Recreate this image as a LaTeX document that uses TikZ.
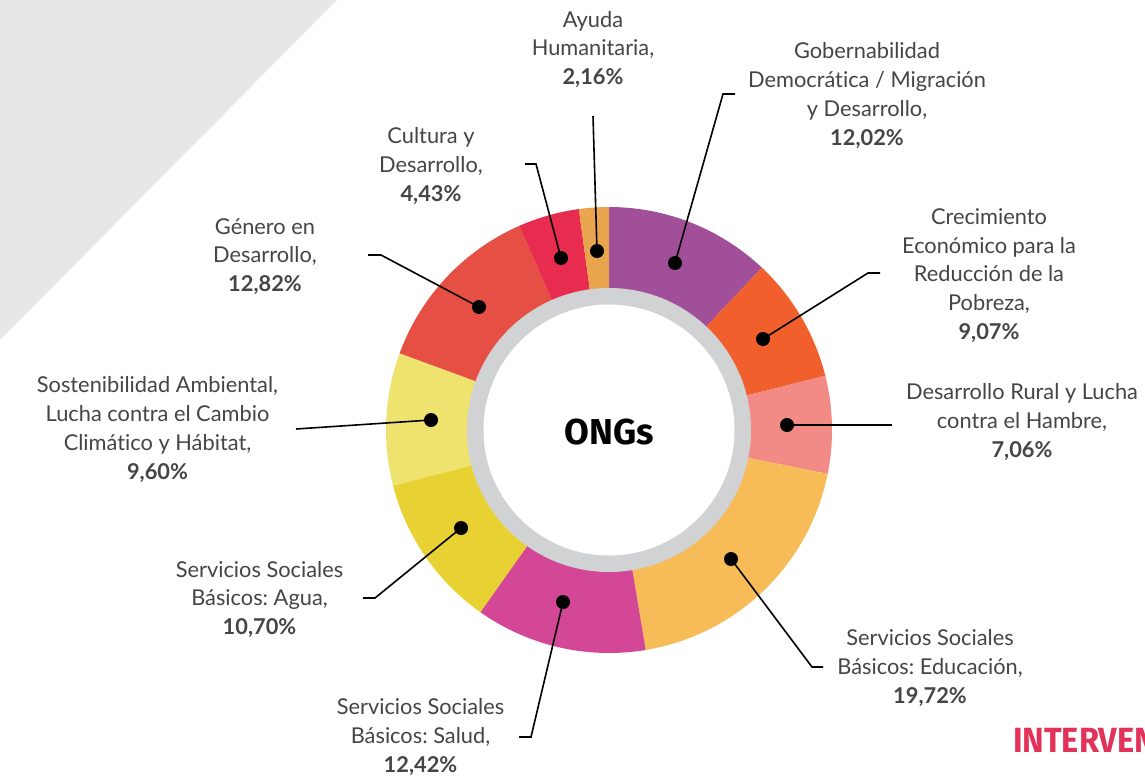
\documentclass[tikz,border=0pt]{standalone}
\usepackage{fontspec}
\setmainfont{Lato}[Ligatures=NoCommon]
\newfontfamily\ongfont{Fira Sans}
\frenchspacing
\definecolor{bggray}{HTML}{E6E7E8}
\definecolor{ringgray}{HTML}{D1D2D4}
\definecolor{labelgray}{HTML}{454545}
\definecolor{cGob}{HTML}{A24F9A}
\definecolor{cCrec}{HTML}{F05F2C}
\definecolor{cRural}{HTML}{F28B85}
\definecolor{cEduc}{HTML}{F7BB57}
\definecolor{cSalud}{HTML}{D34796}
\definecolor{cAgua}{HTML}{E8D132}
\definecolor{cSost}{HTML}{EEE36F}
\definecolor{cGen}{HTML}{E64F44}
\definecolor{cCult}{HTML}{E72C4F}
\definecolor{cAyuda}{HTML}{E9A54E}
\definecolor{cInter}{HTML}{E33259}
\newcommand\ringslice[3]{\fill[#3] (#1:223) arc[start angle=#1,end angle=#2,radius=223] -- (#2:141) arc[start angle=#2,end angle=#1,radius=141] -- cycle;}
\begin{document}
\begin{tikzpicture}[x=1pt,y=-1pt,
  dot/.style={circle,fill=black,inner sep=0pt,minimum size=14pt},
  leader/.style={line width=1.6pt,black},
  lbl/.style={align=center,text=labelgray,inner sep=0pt,font=\fontsize{21.8}{28.8}\selectfont}]
\clip (0,0) rectangle (1145,776);
\fill[white] (0,0) rectangle (1145,776);
\fill[bggray] (0,0) -- (337,0) -- (0,340) -- cycle;
% donut
\begin{scope}[shift={(609,430)}]
\ringslice{-90}{-46.728}{cGob}
\ringslice{-46.728}{-14.076}{cCrec}
\ringslice{-14.076}{11.34}{cRural}
\ringslice{11.34}{80.532}{cEduc}
\ringslice{80.532}{125.244}{cSalud}
\ringslice{125.244}{165.564}{cAgua}
\ringslice{165.564}{200.124}{cSost}
\ringslice{200.124}{246.276}{cGen}
\ringslice{246.276}{262.224}{cCult}
\ringslice{262.224}{270}{cAyuda}
\fill[ringgray] (0,0) circle[radius=142];
\fill[white] (0,0) circle[radius=125.5];
\end{scope}
\node[font=\ongfont\bfseries\fontsize{36}{36}\selectfont,inner sep=0pt] (ong) at (609,432) {ONGs};
% labels
\node[lbl] (lAyuda) at (593,49.5) {Ayuda\\Humanitaria,\\\textbf{2,16\%}};
\node[lbl] (lGob) at (867,95.5) {Gobernabilidad\\Democrática / Migración\\y Desarrollo,\\\textbf{12,02\%}};
\node[lbl] (lCult) at (431,166) {Cultura y\\Desarrollo,\\\textbf{4,43\%}};
\node[lbl] (lGen) at (265,256.5) {Género en\\Desarrollo,\\\textbf{12,82\%}};
\node[lbl] (lCrec) at (989,275.5) {Crecimiento\\Económico para la\\Reducción de la\\Pobreza,\\\textbf{9,07\%}};
\node[lbl] (lRural) at (1022,422) {Desarrollo Rural y Lucha\\contra el Hambre,\\\textbf{7,06\%}};
\node[lbl] (lSost) at (157.5,429.5) {Sostenibilidad Ambiental,\\Lucha contra el Cambio\\Climático y Hábitat,\\\textbf{9,60\%}};
\node[lbl] (lAgua) at (259.5,599.5) {Servicios Sociales\\Básicos: Agua,\\\textbf{10,70\%}};
\node[lbl] (lEduc) at (930,668) {Servicios Sociales\\Básicos: Educación,\\\textbf{19,72\%}};
\node[lbl] (lSalud) at (420.5,737) {Servicios Sociales\\Básicos: Salud,\\\textbf{12,42\%}};
\node[anchor=base west,inner sep=0pt,text=cInter,font=\ongfont\bfseries\fontsize{35}{35}\selectfont] (inter) at (1013,752) {\scalebox{0.93}[1]{INTERVEN}};
% dots
\node[dot] (dAyuda) at (597,251) {};
\node[dot] (dCult) at (561,258) {};
\node[dot] (dGob) at (675,263) {};
\node[dot] (dGen) at (479,307) {};
\node[dot] (dCrec) at (763,339) {};
\node[dot] (dSost) at (431,420) {};
\node[dot] (dRural) at (787,425) {};
\node[dot] (dAgua) at (461,528) {};
\node[dot] (dEduc) at (731,559) {};
\node[dot] (dSalud) at (563,602) {};
% leader end points
\coordinate (kAyuda) at (593,116);
\coordinate (kCultA) at (525,164); \coordinate (kCultB) at (536,164);
\coordinate (kGobA) at (735,94); \coordinate (kGobB) at (723,94);
\coordinate (kGenA) at (368,255); \coordinate (kGenB) at (381,255);
\coordinate (kCrecA) at (880,273); \coordinate (kCrecB) at (868,273);
\coordinate (kSost) at (296,429);
\coordinate (kRural) at (892,425);
\coordinate (kAguaA) at (363,598); \coordinate (kAguaB) at (375,598);
\coordinate (kEducA) at (823,667); \coordinate (kEducB) at (812,667);
\coordinate (kSaludA) at (519,737); \coordinate (kSaludB) at (531,737);
% leaders
\draw[leader] (kAyuda) -- (dAyuda.center);
\draw[leader] (kCultA) -- (kCultB) -- (dCult.center);
\draw[leader] (kGobA) -- (kGobB) -- (dGob.center);
\draw[leader] (kGenA) -- (kGenB) -- (dGen.center);
\draw[leader] (kCrecA) -- (kCrecB) -- (dCrec.center);
\draw[leader] (kSost) -- (dSost.center);
\draw[leader] (kRural) -- (dRural.center);
\draw[leader] (kAguaA) -- (kAguaB) -- (dAgua.center);
\draw[leader] (kEducA) -- (kEducB) -- (dEduc.center);
\draw[leader] (kSaludA) -- (kSaludB) -- (dSalud.center);
\end{tikzpicture}
\end{document}
